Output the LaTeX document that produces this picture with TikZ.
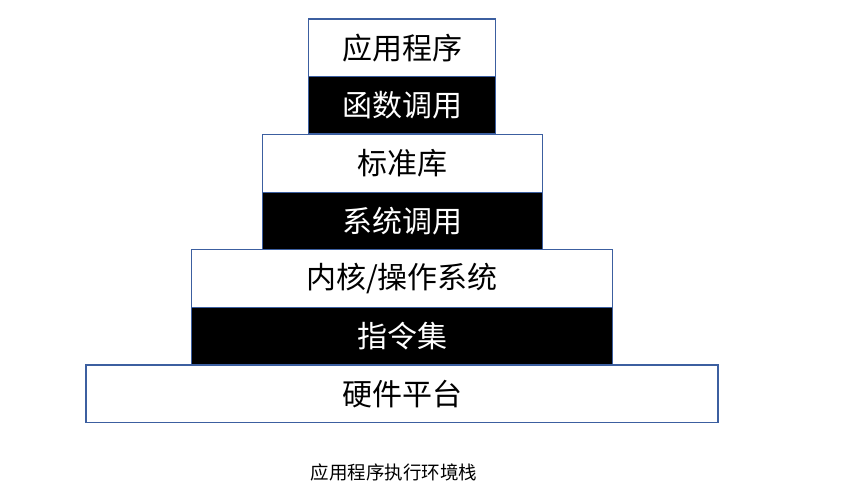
\documentclass[tikz,border=0pt]{standalone}
\usepackage{fontspec}
\setmainfont{Noto Sans CJK SC}
\definecolor{edgeblue}{RGB}{60,95,160}
\begin{document}
\begin{tikzpicture}[x=1pt,y=-1pt,
  layer/.style={draw=edgeblue, line width=1.2pt, fill=white, text=black,
    font=\fontsize{30}{34}\selectfont, inner sep=0pt},
  darklayer/.style={layer, fill=black, text=white}]
  \useasboundingbox (0,0) rectangle (864,491);
  % stack of layers, from top to bottom
  \node[layer, minimum width=187pt, minimum height=57.5pt] (app) at (402,47.8) {应用程序};
  \node[darklayer, minimum width=187pt, minimum height=57pt] (func) at (402,105.3) {函数调用};
  \node[layer, minimum width=280pt, minimum height=58pt] (lib) at (402.3,163.2) {标准库};
  \node[darklayer, minimum width=280pt, minimum height=57pt] (sys) at (402.3,220.8) {系统调用};
  \node[layer, minimum width=420.5pt, minimum height=57.5pt] (os) at (402,278.5) {内核/操作系统};
  \node[darklayer, minimum width=420.5pt, minimum height=57pt] (isa) at (402,335.8) {指令集};
  \node[layer, minimum width=632pt, minimum height=57.3pt] (hw) at (402,393.6) {硬件平台};
  % caption
  \node[font=\fontsize{18.5}{22}\selectfont, inner sep=0pt] (cap) at (394,472) {应用程序执行环境栈};
\end{tikzpicture}
\end{document}
